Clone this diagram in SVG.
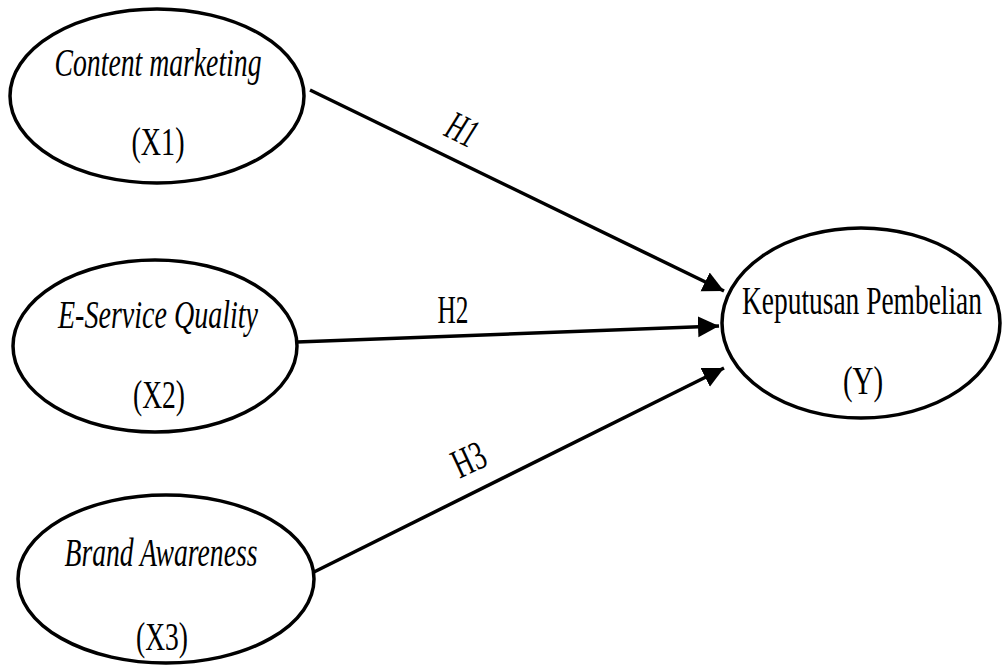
<svg xmlns="http://www.w3.org/2000/svg" width="1002" height="666" viewBox="0 0 1002 666">
<style>
  .node ellipse { fill: #fff; stroke: #000; stroke-width: 3.5; }
  text { font-family: "Liberation Serif", "Times New Roman", serif; fill: #000; text-anchor: middle; }
  .it { font-style: italic; font-size: 41px; }
  .rg { font-size: 39px; }
  .lbl { font-size: 41px; }
  .edge line { stroke: #000; stroke-width: 3.5; }
</style>
<defs>
  <marker id="ah" viewBox="0 0 10 10" refX="10" refY="5" markerWidth="6" markerHeight="6.5" markerUnits="strokeWidth" orient="auto">
    <path d="M0,0 L10,5 L0,10 z" fill="#000"/>
  </marker>
</defs>
<rect width="1002" height="666" fill="#fff"/>
<g id="edges" class="edge">
  <line x1="310" y1="90" x2="724" y2="291" marker-end="url(#ah)"/>
  <line x1="297" y1="342" x2="719" y2="326" marker-end="url(#ah)"/>
  <line x1="314" y1="572" x2="724" y2="368" marker-end="url(#ah)"/>
  <g transform="translate(462,130) rotate(26)"><text class="lbl" x="0" y="13" font-style="italic" textLength="30" lengthAdjust="spacingAndGlyphs">H1</text></g>
  <text class="lbl" x="453" y="323" textLength="31" lengthAdjust="spacingAndGlyphs">H2</text>
  <g transform="translate(469,460) rotate(-25)"><text class="lbl" x="0" y="13" textLength="33" lengthAdjust="spacingAndGlyphs">H3</text></g>
</g>
<g id="x1" class="node">
  <ellipse cx="157" cy="96" rx="147" ry="87"/>
  <text class="it" x="158" y="76" textLength="207" lengthAdjust="spacingAndGlyphs">Content marketing</text>
  <text class="rg" x="158" y="155" textLength="53" lengthAdjust="spacingAndGlyphs">(X1)</text>
</g>
<g id="x2" class="node">
  <ellipse cx="155" cy="346" rx="142" ry="86"/>
  <text class="it" x="158" y="328" textLength="200" lengthAdjust="spacingAndGlyphs">E-Service Quality</text>
  <text class="rg" x="159" y="408" textLength="52" lengthAdjust="spacingAndGlyphs">(X2)</text>
</g>
<g id="x3" class="node">
  <ellipse cx="166" cy="579" rx="148" ry="84"/>
  <text class="it" x="161" y="566" textLength="193" lengthAdjust="spacingAndGlyphs">Brand Awareness</text>
  <text class="rg" x="162" y="650" textLength="52" lengthAdjust="spacingAndGlyphs">(X3)</text>
</g>
<g id="y" class="node">
  <ellipse cx="861" cy="323" rx="139" ry="95"/>
  <text class="rg" x="862" y="314" textLength="240" lengthAdjust="spacingAndGlyphs">Keputusan Pembelian</text>
  <text class="rg" x="863" y="394" textLength="40" lengthAdjust="spacingAndGlyphs">(Y)</text>
</g>
</svg>
